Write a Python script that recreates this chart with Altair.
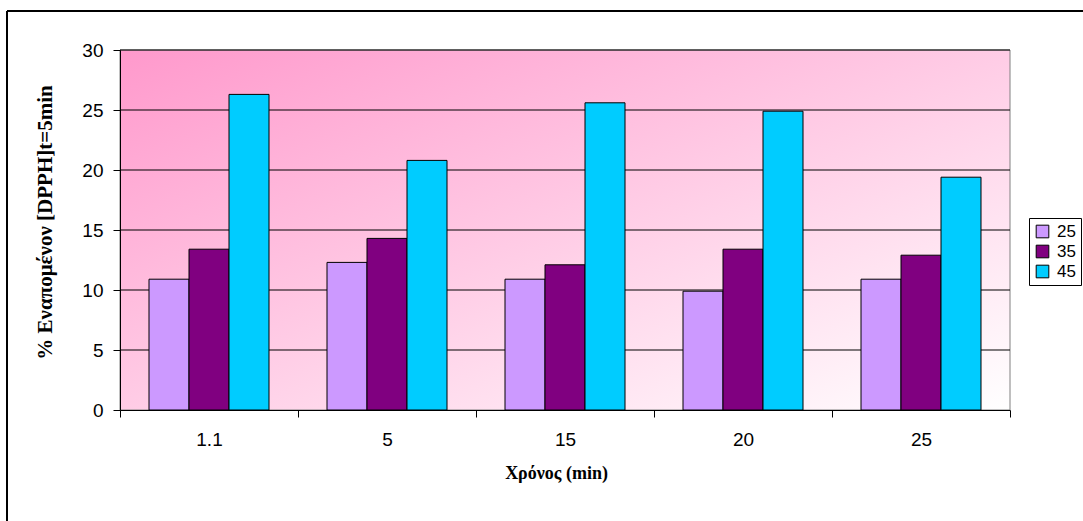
import altair as alt
import pandas as pd

times = ["1.1", "5", "15", "20", "25"]
temps = ["25", "35", "45"]
vals_25 = [10.9, 12.3, 10.9, 9.9, 10.9]
vals_35 = [13.4, 14.3, 12.1, 13.4, 12.9]
vals_45 = [26.3, 20.8, 25.6, 24.9, 19.4]
colors = ["#CC99FF", "#800080", "#00CCFF"]
y_ticks = [0, 5, 10, 15, 20, 25, 30]

rows = []
for t, a, b, c in zip(times, vals_25, vals_35, vals_45):
    rows.append({"time": t, "temp": "25", "value": a})
    rows.append({"time": t, "temp": "35", "value": b})
    rows.append({"time": t, "temp": "45", "value": c})
df = pd.DataFrame(rows)

W, H = 890, 360
one = pd.DataFrame({"a": [0]})

y_enc = alt.Y("value:Q", scale=alt.Scale(domain=[0, 30], nice=False),
              axis=alt.Axis(title="% Εναπομένον [DPPH]t=5min", values=y_ticks,
                            titleAngle=270, titleX=-75, titleY=172,
                            titleAlign="center", titleBaseline="middle",
                            titleFontSize=21, labelPadding=10, zindex=1))

bg = alt.Chart(one).mark_rect(
    fill={"gradient": "linear", "x1": 0, "y1": 0, "x2": 1, "y2": 1,
          "stops": [{"offset": 0, "color": "#FF99CC"},
                    {"offset": 1, "color": "#FFFFFF"}]},
    stroke="#808080", strokeWidth=1
).encode(x=alt.value(0), x2=alt.value(W), y=alt.value(0), y2=alt.value(H))

grid = alt.Chart(pd.DataFrame({"value": y_ticks[1:]})).mark_rule(
    color="black", strokeWidth=1
).encode(y=y_enc, x=alt.value(0), x2=alt.value(W))

bars = alt.Chart(df).mark_bar(stroke="black", strokeWidth=1, opacity=1).encode(
    x=alt.X("time:N", sort=times,
            scale=alt.Scale(paddingInner=0, paddingOuter=0),
            axis=alt.Axis(title="Χρόνος (min)", labelAngle=0, tickBand="extent",
                          titleX=436, titleY=63, titleBaseline="middle",
                          labelPadding=13, zindex=1)),
    xOffset=alt.XOffset("temp:N", sort=temps,
                        scale=alt.Scale(paddingInner=0, paddingOuter=0.725)),
    y=y_enc,
    color=alt.Color("temp:N", sort=temps,
                    scale=alt.Scale(domain=temps, range=colors),
                    legend=alt.Legend(title=None, orient="none", legendX=909, legendY=168,
                                      symbolType="square", symbolSize=160,
                                      symbolStrokeColor="black", symbolStrokeWidth=1,
                                      labelFontSize=17, labelFont="Liberation Sans",
                                      labelColor="black", padding=5, rowPadding=2,
                                      strokeColor="black", fillColor="white",
                                      cornerRadius=0, labelOffset=6)),
)

border_top = alt.Chart(one).mark_rule(color="black", strokeWidth=2).encode(
    x=alt.value(-113), x2=alt.value(1083 - 120), y=alt.value(-39))
border_left = alt.Chart(one).mark_rule(color="black", strokeWidth=2).encode(
    x=alt.value(-113), y=alt.value(-39), y2=alt.value(521 - 50))

chart = alt.layer(bg, grid, bars, border_top, border_left).properties(
    width=W, height=H,
    autosize=alt.AutoSizeParams(type="none"),
    padding={"left": 120, "top": 50, "right": 73, "bottom": 111},
    background="white",
).configure_view(stroke=None).configure_axis(
    domainColor="black", domainWidth=1, tickColor="black", tickSize=7, tickWidth=1,
    grid=False, labelFont="Liberation Sans", labelFontSize=19, labelColor="black",
    titleFont="Liberation Serif", titleFontSize=18, titleFontWeight="bold",
    titleColor="black",
)

chart.save("out.html", embed_options={"renderer": "svg", "actions": False})
